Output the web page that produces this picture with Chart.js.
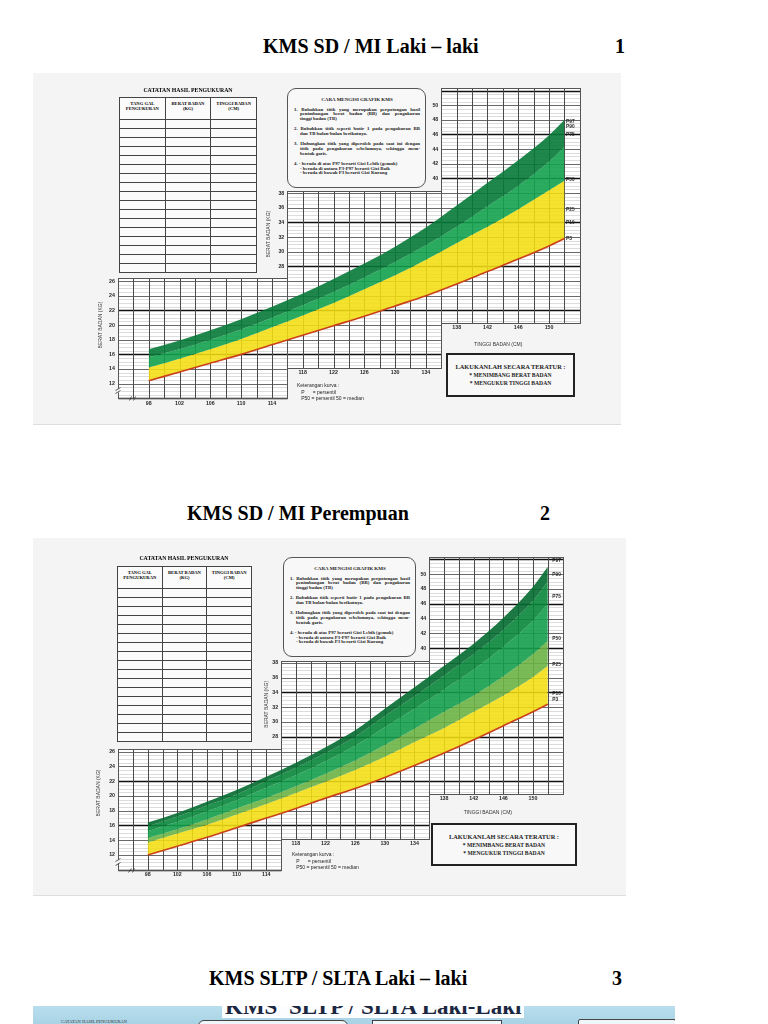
<!DOCTYPE html>
<html>
<head>
<meta charset="utf-8">
<title>KMS SD / MI</title>
<script src="https://cdn.jsdelivr.net/npm/chart.js@4.4.0/dist/chart.umd.min.js"></script>
<style>
  body { margin: 0; background: #fff; width: 768px; height: 1024px; position: relative; overflow: hidden;
         font-family: "Liberation Serif", "Times New Roman", serif; color: #000; }
  .ttl { position: absolute; font-weight: bold; font-size: 20px; line-height: 23px; white-space: nowrap; }
  .card { position: absolute; background: #f4f4f4; border-bottom: 1px solid #dedede; }
  .card canvas { position: absolute; left: 0; top: 0; }
  .cat { position: absolute; text-align: center; font-weight: bold; font-size: 5.8px; line-height: 7px; white-space: nowrap; }
  table.tbl { position: absolute; border-collapse: collapse; table-layout: fixed; background: #fbfbfb; }
  .tbl th, .tbl td { border: 1px solid #444; padding: 0; }
  .tbl th { height: 17px; padding-top: 4px; vertical-align: top; font-size: 4.6px; line-height: 4.8px; font-weight: bold; }
  .tbl td { height: 8px; }
  .cara { position: absolute; box-sizing: border-box; border: 1px solid #555; border-radius: 9px; background: #f8f8f8;
          padding: 0 5px 0 6px; font-size: 4.85px; line-height: 4.7px; font-weight: bold; color: #222; }
  .cara h4 { margin: 8.5px 0 5.5px; text-align: center; font-size: 5px; line-height: 4.7px; }
  .cara .it { margin-bottom: 5.5px; }
  .cara .ln { white-space: nowrap; padding-left: 6px; }
  .cara .ln.f { padding-left: 0; }
  .cara .j { text-align: justify; text-align-last: justify; }
  .ket { position: absolute; font-family: "Liberation Sans", Arial, sans-serif; font-size: 5px; line-height: 6.6px; color: #222; white-space: pre; }
  .lak { position: absolute; box-sizing: border-box; border: 2px solid #222; background: #f8f8f8; text-align: center;
         font-weight: bold; color: #222; }
  .lak .h { font-size: 6.4px; margin-top: 8px; line-height: 8px; }
  .lak .s { font-size: 5.6px; line-height: 8.4px; }
  .strip { position: absolute; left: 33px; top: 1006px; width: 642px; height: 18px; overflow: hidden;
           background: linear-gradient(#b9deee, #a8d3e5); }
  .strip .big { position: absolute; left: 189px; top: -10px; padding: 0 3px; background: #fbfdfe; font-size: 23px; line-height: 22px;
                font-weight: bold; color: #1c2741; white-space: nowrap; }
  .strip .sm { position: absolute; left: 28px; top: 13px; font-size: 4.5px; color: #333; }
  .strip .bx { position: absolute; border: 1px solid #444; border-radius: 6px; background: #eef6f9; }
</style>
</head>
<body>

<div class="ttl" style="left:263px;top:35px">KMS SD / MI Laki – laki</div>
<div class="ttl" style="left:615px;top:35px">1</div>

<div class="card" style="left:33px;top:73px;width:588px;height:351px">
  <canvas id="kmsBoy" width="588" height="351"></canvas>
  <div class="cat" style="left:86px;top:14px;width:138px">CATATAN HASIL PENGUKURAN</div>
  <table class="tbl" style="left:86px;top:24px;width:138px" data-rows="17"></table>
  <div class="cara" style="left:254px;top:15px;width:139px;height:100px">
    <h4>CARA MENGISI GRAFIK KMS</h4>
    <div class="it">
      <div class="ln f j">1. Bubuhkan titik yang merupakan perpotongan hasil</div>
      <div class="ln j">penimbangan berat badan (BB) dan pengukuran</div>
      <div class="ln">tinggi badan (TB)</div>
    </div>
    <div class="it">
      <div class="ln f j">2. Bubuhkan titik seperti butir 1 pada pengukuran BB</div>
      <div class="ln">dan TB bulan-bulan berikutnya.</div>
    </div>
    <div class="it">
      <div class="ln f j">3. Hubungkan titik yang diperoleh pada saat ini dengan</div>
      <div class="ln j">titik pada pengukuran sebelumnya, sehingga mem-</div>
      <div class="ln">bentuk garis.</div>
    </div>
    <div class="it">
      <div class="ln f">4. - berada di atas P97 berarti Gizi Lebih (gemuk)</div>
      <div class="ln">- berada di antara P3-P97 berarti Gizi Baik</div>
      <div class="ln">- berada di bawah P3 berarti Gizi Kurang</div>
    </div>
  </div>
  <div class="ket" style="left:264px;top:309px">Keterangan kurva :
   P      = persentil
   P50 = persentil 50 = median</div>
  <div class="lak" style="left:413px;top:280px;width:129px;height:44px">
    <div class="h">LAKUKANLAH SECARA TERATUR :</div>
    <div class="s">* MENIMBANG BERAT BADAN<br>* MENGUKUR TINGGI BADAN</div>
  </div>
</div>

<div class="ttl" style="left:187px;top:502px">KMS SD / MI Perempuan</div>
<div class="ttl" style="left:540px;top:502px">2</div>

<div class="card" style="left:33px;top:538px;width:593px;height:357px">
  <canvas id="kmsGirl" width="593" height="357"></canvas>
  <div class="cat" style="left:82px;top:17px;width:138px">CATATAN HASIL PENGUKURAN</div>
  <table class="tbl" style="left:84px;top:28px;width:135px" data-rows="17"></table>
  <div class="cara" style="left:250px;top:19px;width:133px;height:100px">
    <h4>CARA MENGISI GRAFIK KMS</h4>
    <div class="it">
      <div class="ln f j">1. Bubuhkan titik yang merupakan perpotongan hasil</div>
      <div class="ln j">penimbangan berat badan (BB) dan pengukuran</div>
      <div class="ln">tinggi badan (TB)</div>
    </div>
    <div class="it">
      <div class="ln f j">2. Bubuhkan titik seperti butir 1 pada pengukuran BB</div>
      <div class="ln">dan TB bulan-bulan berikutnya.</div>
    </div>
    <div class="it">
      <div class="ln f j">3. Hubungkan titik yang diperoleh pada saat ini dengan</div>
      <div class="ln j">titik pada pengukuran sebelumnya, sehingga mem-</div>
      <div class="ln">bentuk garis.</div>
    </div>
    <div class="it">
      <div class="ln f">4. - berada di atas P97 berarti Gizi Lebih (gemuk)</div>
      <div class="ln">- berada di antara P3-P97 berarti Gizi Baik</div>
      <div class="ln">- berada di bawah P3 berarti Gizi Kurang</div>
    </div>
  </div>
  <div class="ket" style="left:259px;top:313px">Keterangan kurva :
   P      = persentil
   P50 = persentil 50 = median</div>
  <div class="lak" style="left:398px;top:285px;width:146px;height:43px">
    <div class="h">LAKUKANLAH SECARA TERATUR :</div>
    <div class="s">* MENIMBANG BERAT BADAN<br>* MENGUKUR TINGGI BADAN</div>
  </div>
</div>

<div class="ttl" style="left:209px;top:967px">KMS SLTP / SLTA Laki – laki</div>
<div class="ttl" style="left:612px;top:967px">3</div>

<div class="strip">
  <div class="big">KMS&nbsp; SLTP / SLTA Laki-Laki</div>
  <div class="sm">CATATAN HASIL PENGUKURAN</div>
  <div class="bx" style="left:165px;top:14px;width:148px;height:20px"></div>
  <div class="bx" style="left:339px;top:14px;width:128px;height:20px;border-radius:0;background:#f2f8fa"></div>
  <div class="bx" style="left:545px;top:13px;width:96px;height:20px;border-radius:2px"></div>
</div>

<script>
// tinggi badan (cm) where the curves are read
const heights = [98, 102, 106, 110, 114, 118, 122, 126, 130, 134, 138, 142, 146, 150, 152];

// KMS SD / MI laki-laki, berat badan (kg)
const boyP97 = [16.7, 17.9, 19.3, 20.8, 22.5, 24.3, 26.3, 28.4, 30.7, 33.3, 36.3, 39.4, 42.5, 45.9, 48.0];
const boyP75 = [15.6, 16.7, 18.0, 19.4, 21.0, 22.7, 24.5, 26.5, 28.6, 30.9, 33.4, 36.2, 39.0, 42.3, 44.3];
const boyP50 = [14.2, 15.4, 16.7, 18.1, 19.7, 21.3, 23.0, 24.9, 26.8, 28.9, 31.2, 33.4, 35.8, 38.4, 39.7];
const boyP3  = [12.4, 13.6, 14.8, 16.0, 17.3, 18.6, 19.9, 21.2, 22.6, 24.0, 25.6, 27.3, 29.0, 30.8, 31.8];

// KMS SD / MI perempuan, berat badan (kg)
const girlP97 = [16.4, 17.7, 19.2, 20.8, 22.6, 24.5, 26.6, 28.9, 31.8, 34.7, 37.6, 40.6, 44.1, 48.3, 51.0];
const girlP90 = [15.9, 17.2, 18.7, 20.2, 22.0, 23.8, 25.8, 28.0, 30.8, 33.5, 36.3, 39.2, 42.5, 46.4, 49.0];
const girlP75 = [15.2, 16.5, 17.9, 19.4, 21.1, 22.8, 24.7, 26.8, 29.3, 31.8, 34.4, 37.1, 40.2, 43.7, 46.0];
const girlP50 = [14.3, 15.5, 16.8, 18.3, 19.7, 21.3, 23.0, 24.8, 26.9, 29.1, 31.4, 33.6, 36.2, 39.2, 41.0];
const girlP25 = [13.7, 14.9, 16.1, 17.5, 18.9, 20.4, 21.9, 23.5, 25.3, 27.3, 29.2, 31.4, 33.6, 36.1, 37.6];
const girlP3  = [12.0, 13.2, 14.4, 15.7, 17.0, 18.3, 19.7, 21.0, 22.5, 24.1, 25.8, 27.6, 29.5, 31.4, 32.4];

// tick labels of the three stepped grid blocks
const xTicksLow = [98, 102, 106, 110, 114];
const xTicksMid = [118, 122, 126, 130, 134];
const xTicksTop = [138, 142, 146, 150];
const yTicksLow = [12, 14, 16, 18, 20, 22, 24, 26];
const yTicksMid = [28, 30, 32, 34, 36, 38];
const yTicksTop = [40, 42, 44, 46, 48, 50];
const pctNames = ['P97', 'P90', 'P75', 'P50', 'P25', 'P10', 'P3'];

// empty recording table
document.querySelectorAll('table.tbl').forEach(t => {
  let html = '<tr><th>TANG GAL<br>PENGUKURAN</th><th>BERAT BADAN<br>(KG)</th><th>TINGGI BADAN<br>(CM)</th></tr>';
  for (let i = 0; i < +t.dataset.rows; i++) html += '<tr><td></td><td></td><td></td></tr>';
  t.innerHTML = html;
});

// the stepped grid blocks (cm / kg)
const blocks = [
  { x0: 94, x1: 116, y0: 10, y1: 26.4, xt: xTicksLow, yt: yTicksLow },
  { x0: 116, x1: 136, y0: 14.2, y1: 38.3, xt: xTicksMid, yt: yTicksMid },
  { x0: 136, x1: 154, y0: 20.3, y1: 52.3, xt: xTicksTop, yt: yTicksTop }
];

const kmsGrid = {
  id: 'kmsGrid',
  beforeDatasetsDraw(chart, args, opts) {
    const { ctx, scales: { x, y } } = chart;
    const px = v => Math.round(x.getPixelForValue(v)) + 0.5;
    const py = v => Math.round(y.getPixelForValue(v)) + 0.5;
    ctx.save();
    blocks.forEach(b => {
      ctx.fillStyle = '#fff';
      ctx.fillRect(px(b.x0), py(b.y1), px(b.x1) - px(b.x0), py(b.y0) - py(b.y1));
    });
    blocks.forEach(b => {
      const l = px(b.x0), r = px(b.x1), t = py(b.y1), bt = py(b.y0);
      for (let v = Math.ceil(b.y0 * 2) / 2; v <= b.y1; v += 0.5) {
        const major = v % 2 === 0, heavy = (v - 4) % 6 === 0;
        ctx.beginPath();
        ctx.strokeStyle = heavy ? '#111' : major ? '#6a6a6a' : '#c4c4c4';
        ctx.lineWidth = heavy ? 1.4 : major ? 1 : 0.6;
        ctx.moveTo(l, py(v)); ctx.lineTo(r, py(v)); ctx.stroke();
      }
      for (let v = b.x0; v <= b.x1; v += 2) {
        ctx.beginPath();
        ctx.strokeStyle = '#4a4a4a'; ctx.lineWidth = 1;
        ctx.moveTo(px(v), t); ctx.lineTo(px(v), bt); ctx.stroke();
      }
      ctx.strokeStyle = '#555'; ctx.lineWidth = 1;
      ctx.strokeRect(l, t, r - l, bt - t);
    });
    // axis break at the lower left corner
    const b0 = blocks[0];
    ctx.fillStyle = '#f4f4f4';
    ctx.fillRect(px(b0.x0) - 2, py(11.4), 4, 4);
    ctx.beginPath(); ctx.strokeStyle = '#333'; ctx.lineWidth = 0.8;
    ctx.moveTo(px(b0.x0) - 3, py(11.2)); ctx.lineTo(px(b0.x0) + 2, py(11.6));
    ctx.moveTo(px(b0.x0) - 3, py(10.7)); ctx.lineTo(px(b0.x0) + 2, py(11.1));
    ctx.moveTo(px(95.4), py(b0.y0) + 2); ctx.lineTo(px(95.7), py(b0.y0) - 2);
    ctx.moveTo(px(95.9), py(b0.y0) + 2); ctx.lineTo(px(96.2), py(b0.y0) - 2);
    ctx.stroke();
    ctx.restore();
  },
  afterDatasetsDraw(chart, args, opts) {
    const { ctx, scales: { x, y } } = chart;
    ctx.save();
    ctx.fillStyle = '#2a2a2a';
    ctx.font = 'bold 5.3px "Liberation Sans", Arial, sans-serif';
    blocks.forEach(b => {
      ctx.textAlign = 'right'; ctx.textBaseline = 'middle';
      b.yt.forEach(v => ctx.fillText(v, x.getPixelForValue(b.x0) - 3, y.getPixelForValue(v)));
      ctx.textAlign = 'center';
      b.xt.forEach(v => ctx.fillText(v, x.getPixelForValue(v), y.getPixelForValue(b.y0) + 5));
    });
    ctx.font = 'bold 4.8px "Liberation Sans", Arial, sans-serif';
    ctx.textAlign = 'left';
    pctNames.forEach((n, i) => ctx.fillText(n, x.getPixelForValue(opts.pctX), y.getPixelForValue(opts.pctY[i])));
    ctx.font = '5px "Liberation Sans", Arial, sans-serif';
    ctx.fillStyle = '#333';
    opts.titles.forEach(t => {
      ctx.save();
      ctx.translate(x.getPixelForValue(t.x), y.getPixelForValue(t.y));
      if (t.rot) ctx.rotate(-Math.PI / 2);
      ctx.textAlign = 'center';
      ctx.fillText(t.text, 0, 0);
      ctx.restore();
    });
    ctx.restore();
  }
};

function kmsChart(id, series, o) {
  const datasets = series.map((s, i) => ({
    data: heights.map((h, k) => ({ x: h, y: s.values[k] })),
    borderWidth: s.line ? 1.6 : 0,
    borderColor: s.line || 'rgba(0,0,0,0)',
    backgroundColor: s.band || 'rgba(0,0,0,0)',
    fill: s.band ? '+1' : false,
    pointRadius: 0,
    cubicInterpolationMode: 'monotone',
    order: s.line ? -1 : i
  }));
  return new Chart(document.getElementById(id), {
    type: 'line',
    data: { datasets },
    options: {
      responsive: false,
      animation: false,
      events: [],
      layout: { padding: 0 },
      scales: {
        x: { type: 'linear', display: false, min: o.xMin, max: o.xMax },
        y: { type: 'linear', display: false, min: o.yMin, max: o.yMax }
      },
      plugins: {
        legend: { display: false },
        tooltip: { enabled: false },
        kmsGrid: { pctX: o.pctX, pctY: o.pctY, titles: o.titles }
      }
    },
    plugins: [kmsGrid]
  });
}

kmsChart('kmsBoy', [
  { values: boyP97, band: 'rgba(8,122,56,0.9)' },
  { values: boyP75, band: 'rgba(20,162,78,0.9)' },
  { values: boyP50, band: 'rgba(242,222,18,0.88)' },
  { values: boyP3, line: '#c9401a' }
], {
  xMin: 82.97, xMax: 159.34, yMin: 6.5, yMax: 54.39,
  pctX: 152.2, pctY: [47.8, 47.0, 46.0, 39.8, 35.7, 33.9, 31.8],
  titles: [
    { text: 'BERAT BADAN (KG)', x: 91.7, y: 20.0, rot: true },
    { text: 'BERAT BADAN (KG)', x: 113.6, y: 32.4, rot: true },
    { text: 'TINGGI BADAN (CM)', x: 143.4, y: 17.3 }
  ]
});

kmsChart('kmsGirl', [
  { values: girlP97, band: 'rgba(5,108,48,0.9)' },
  { values: girlP90, band: 'rgba(10,134,60,0.9)' },
  { values: girlP75, band: 'rgba(22,160,78,0.9)' },
  { values: girlP50, band: 'rgba(108,180,70,0.9)' },
  { values: girlP25, band: 'rgba(242,222,18,0.88)' },
  { values: girlP3, line: '#c9401a' }
], {
  xMin: 82.52, xMax: 162.55, yMin: 6.59, yMax: 54.9,
  pctX: 152.6, pctY: [51.8, 49.9, 46.9, 41.3, 37.8, 33.9, 33.0],
  titles: [
    { text: 'BERAT BADAN (KG)', x: 91.4, y: 20.4, rot: true },
    { text: 'BERAT BADAN (KG)', x: 114.1, y: 32.4, rot: true },
    { text: 'TINGGI BADAN (CM)', x: 143.9, y: 17.8 }
  ]
});
</script>
</body>
</html>
